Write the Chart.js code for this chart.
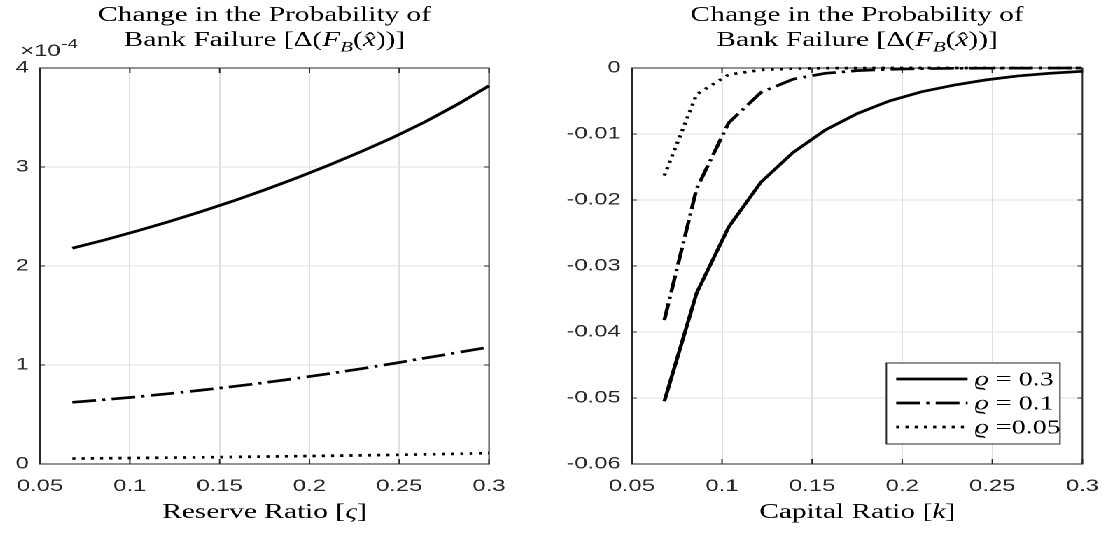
<!DOCTYPE html>
<html>
<head>
<meta charset="utf-8">
<script src="https://cdn.jsdelivr.net/npm/chart.js@4.4.1/dist/chart.umd.min.js"></script>
<style>
  html, body { margin: 0; padding: 0; background: #fff; overflow: hidden; }
  /* the source figure is a horizontally stretched export, so draw narrow and stretch */
  #fig { position: absolute; left: 0; top: 0; width: 797px; height: 534px;
         transform: scaleX(1.4); transform-origin: 0 0; }
  #fig canvas { position: absolute; top: 0; }
</style>
</head>
<body>
<div id="fig">
  <canvas id="reserveChart" width="400" height="534" style="left:0"></canvas>
  <canvas id="capitalChart" width="397" height="534" style="left:400px"></canvas>
</div>
<script>
// x values (both panels share the same grid of ratios)
const ratios = [0.068, 0.0859, 0.1037, 0.1216, 0.1394, 0.1573, 0.1751,
                0.1929, 0.2108, 0.2286, 0.2465, 0.2643, 0.2822, 0.3];

// left panel: change in failure probability vs reserve ratio, units of 1e-4
const reserveRho030 = [2.18, 2.263, 2.352, 2.447, 2.548, 2.655, 2.769, 2.890, 3.018, 3.154, 3.298, 3.455, 3.63, 3.82];
const reserveRho010 = [0.623, 0.650, 0.678, 0.710, 0.745, 0.782, 0.822, 0.865, 0.912, 0.962, 1.015, 1.07, 1.125, 1.18];
const reserveRho005 = [0.055, 0.058, 0.061, 0.064, 0.067, 0.071, 0.075, 0.079, 0.083, 0.087, 0.092, 0.097, 0.103, 0.11];

// right panel: change in failure probability vs capital ratio
const capitalRho030 = [-0.0505, -0.0341, -0.0241, -0.0173, -0.0128, -0.0094, -0.0069,
                       -0.0050, -0.0036, -0.0026, -0.0018, -0.0012, -0.0008, -0.0005];
const capitalRho010 = [-0.0382, -0.0183, -0.0083, -0.0037, -0.0017, -0.0008, -0.0004,
                       -0.0002, -0.0001, -0.00005, -0.00003, -0.00002, -0.00001, 0];
const capitalRho005 = [-0.0163, -0.0040, -0.0010, -0.0003, -0.0001, -0.00003, -0.00001,
                       0, 0, 0, 0, 0, 0, 0];

const seriesLabels = ["ϱ = 0.3", "ϱ = 0.1", "ϱ =0.05"];
const xTickValues = [0.05, 0.1, 0.15, 0.2, 0.25, 0.3];

const INK = "#262626";
const GRID = "#e0e0e0";
const SANS = "'Liberation Sans', Arial, sans-serif";
const SERIF = "'Liberation Serif', 'Times New Roman', serif";
const dashDot = [17, 4.5, 2.2, 4.5];
const dotted = [2.2, 4.4];

function fontFor(style, size) {
  if (style === "r") return size + "px " + SERIF;
  if (style === "s") return "italic " + Math.round(size * 0.72) + "px " + SERIF;
  return "italic " + size + "px " + SERIF;
}

// draw text made of roman / italic / subscript pieces
function richText(ctx, parts, x, y, size, align) {
  let w = 0;
  parts.forEach(p => { ctx.font = fontFor(p[1], size); w += ctx.measureText(p[0]).width; });
  let cx = align === "center" ? x - w / 2 : x;
  parts.forEach(p => {
    ctx.font = fontFor(p[1], size);
    ctx.fillText(p[0], cx, y + (p[1] === "s" ? size * 0.25 : 0));
    cx += ctx.measureText(p[0]).width;
  });
}

function makeSet(values, label, dash) {
  return {
    label: label,
    data: ratios.map((k, i) => ({ x: k, y: values[i] })),
    borderColor: "#000",
    borderWidth: 2.7,
    borderDash: dash,
    pointRadius: 0,
    tension: 0,
    clip: false,
  };
}

// box, inward tick marks (MATLAB style)
const framePlugin = {
  id: "frame",
  beforeDatasetsDraw(chart) {
    const { ctx, chartArea: a, scales } = chart;
    ctx.save();
    ctx.strokeStyle = INK;
    ctx.lineWidth = 1;
    ctx.strokeRect(a.left, a.top, a.right - a.left, a.bottom - a.top);
    ctx.beginPath();
    scales.x.ticks.forEach(t => {
      const px = scales.x.getPixelForValue(t.value);
      ctx.moveTo(px, a.bottom); ctx.lineTo(px, a.bottom - 5);
      ctx.moveTo(px, a.top); ctx.lineTo(px, a.top + 5);
    });
    scales.y.ticks.forEach(t => {
      const py = scales.y.getPixelForValue(t.value);
      ctx.moveTo(a.left, py); ctx.lineTo(a.left + 3.5, py);
      ctx.moveTo(a.right, py); ctx.lineTo(a.right - 3.5, py);
    });
    ctx.stroke();
    ctx.restore();
  },
};

// titles, axis label, exponent and legend
const textPlugin = {
  id: "texts",
  afterDraw(chart) {
    const { ctx, chartArea: a } = chart;
    const o = chart.options.plugins.texts;
    const cx = (a.left + a.right) / 2;
    ctx.save();
    ctx.fillStyle = "#000";
    ctx.textBaseline = "alphabetic";
    richText(ctx, [["Change in the Probability of", "r"]], cx, 21, 21, "center");
    richText(ctx, [["Bank Failure [Δ(", "r"], ["F", "i"], ["B", "s"], ["(", "r"], ["x̂", "i"], ["))]", "r"]],
      cx, 46, 21, "center");
    richText(ctx, o.xTitle, cx, 518, 21, "center");

    if (o.exponent) {
      ctx.fillStyle = INK;
      ctx.font = "17px " + SANS;
      const base = "×10";
      const x0 = a.left - 14;
      ctx.fillText(base, x0, 56);
      const bw = ctx.measureText(base).width;
      ctx.font = "13px " + SANS;
      ctx.fillText("-4", x0 + bw + 0.5, 48);
    }

    if (o.legend) {
      const bw = 124, bh = 81;
      const bx = a.right - 16 - bw, by = a.bottom - 20 - bh;
      ctx.fillStyle = "#fff";
      ctx.fillRect(bx, by, bw, bh);
      ctx.strokeStyle = INK;
      ctx.lineWidth = 1;
      ctx.strokeRect(bx, by, bw, bh);
      chart.data.datasets.forEach((ds, i) => {
        const ly = by + 16 + i * 24;
        ctx.save();
        ctx.strokeStyle = ds.borderColor;
        ctx.lineWidth = ds.borderWidth;
        ctx.setLineDash(ds.borderDash);
        ctx.beginPath();
        ctx.moveTo(bx + 7, ly);
        ctx.lineTo(bx + 58, ly);
        ctx.stroke();
        ctx.restore();
        ctx.fillStyle = "#000";
        ctx.textBaseline = "middle";
        richText(ctx, [[ds.label.slice(0, 1), "i"], [ds.label.slice(1), "r"]], bx + 63, ly + 1, 20, "left");
      });
    }
    ctx.restore();
  },
};

function makeChart(id, sets, yOpts, layout, texts) {
  return new Chart(document.getElementById(id), {
    type: "line",
    data: { datasets: sets },
    plugins: [framePlugin, textPlugin],
    options: {
      responsive: false,
      animation: false,
      devicePixelRatio: 2,
      layout: { padding: { left: 0, right: layout.right, top: 68, bottom: 0 } },
      plugins: { legend: { display: false }, tooltip: { enabled: false }, texts: texts },
      scales: {
        x: {
          type: "linear",
          min: 0.05,
          max: 0.3,
          afterBuildTicks: s => { s.ticks = xTickValues.map(v => ({ value: v })); },
          afterFit: s => { s.height = 70; },
          grid: { color: GRID, drawTicks: false },
          border: { color: INK },
          ticks: {
            padding: 12,
            color: INK,
            font: { family: SANS, size: 17 },
            maxRotation: 0,
            callback: v => String(+v.toFixed(2)),
          },
        },
        y: Object.assign({
          afterFit: s => { s.width = layout.yWidth; },
          grid: { color: GRID, drawTicks: false },
          border: { color: INK },
        }, yOpts),
      },
    },
  });
}

makeChart("reserveChart",
  [makeSet(reserveRho030, seriesLabels[0], []),
   makeSet(reserveRho010, seriesLabels[1], dashDot),
   makeSet(reserveRho005, seriesLabels[2], dotted)],
  {
    min: 0, max: 4,
    ticks: { stepSize: 1, padding: 8, color: INK, font: { family: SANS, size: 17 },
             callback: v => String(v) },
  },
  { yWidth: 24.3, right: 50.7 },
  { xTitle: [["Reserve Ratio [", "r"], ["ς", "i"], ["]", "r"]], exponent: true, legend: false });

makeChart("capitalChart",
  [makeSet(capitalRho030, seriesLabels[0], []),
   makeSet(capitalRho010, seriesLabels[1], dashDot),
   makeSet(capitalRho005, seriesLabels[2], dotted)],
  {
    min: -0.06, max: 0,
    ticks: { stepSize: 0.01, padding: 8, color: INK, font: { family: SANS, size: 17 },
             callback: v => (Math.abs(v) < 1e-9 ? "0" : v.toFixed(2)) },
  },
  { yWidth: 51.4, right: 20.6 },
  { xTitle: [["Capital Ratio [", "r"], ["k", "i"], ["]", "r"]], exponent: false, legend: true });
</script>
</body>
</html>
